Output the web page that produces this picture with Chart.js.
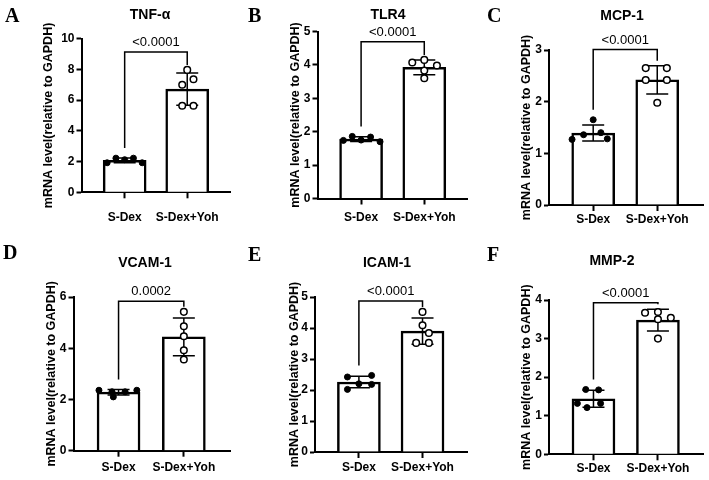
<!DOCTYPE html>
<html>
<head>
<meta charset="utf-8">
<script src="https://cdn.jsdelivr.net/npm/chart.js@4.4.1/dist/chart.umd.min.js"></script>
<style>
  body { margin: 0; background: #fff; }
  #wrap { position: relative; width: 709px; height: 480px; overflow: hidden; background: #fff; }
  .panel { position: absolute; }
  .letter { position: absolute; font: bold 20px "Liberation Serif", "Times New Roman", serif; line-height: 20px; color: #000; }
</style>
</head>
<body>
<div id="wrap"></div>
<script>
// data
const groups = ['S-Dex', 'S-Dex+Yoh'];
const genes = ['TNF-α', 'TLR4', 'MCP-1', 'VCAM-1', 'ICAM-1', 'MMP-2'];
const letters = ['A', 'B', 'C', 'D', 'E', 'F'];
const pValues = ['<0.0001', '<0.0001', '<0.0001', '0.0002', '<0.0001', '<0.0001'];
const yMax = [10, 5, 3, 6, 5, 4];
const yStep = [2, 1, 1, 2, 1, 1];
const sdexValues = [
  [1.92, 2.22, 2.12, 2.22, 1.92],
  [1.74, 1.86, 1.75, 1.84, 1.70],
  [1.27, 1.36, 1.65, 1.4, 1.28],
  [2.36, 2.30, 2.10, 2.30, 2.36],
  [2.42, 2.47, 2.02, 2.2, 2.18],
  [1.68, 1.67, 1.32, 1.21, 1.32]
];
const yohValues = [
  [7.96, 7.35, 6.99, 5.63, 5.63],
  [4.07, 4.15, 3.98, 3.83, 3.6],
  [2.65, 2.65, 2.42, 2.42, 1.98],
  [5.42, 4.86, 4.47, 3.92, 3.56],
  [4.52, 4.09, 3.84, 3.52, 3.52],
  [3.67, 3.69, 3.54, 3.5, 3.0]
];
// sideways spread of the dots, in category units
const sdexJitter = [
  [-0.28, -0.14, 0, 0.14, 0.28],
  [-0.28, -0.14, 0, 0.15, 0.3],
  [-0.33, -0.15, 0, 0.12, 0.22],
  [-0.3, -0.1, -0.08, 0.1, 0.28],
  [-0.18, 0.2, -0.18, 0, 0.2],
  [-0.12, 0.08, -0.25, -0.1, 0.11]
];
const yohJitter = [
  [0, 0.1, -0.08, -0.08, 0.1],
  [-0.19, 0, 0.2, 0, 0],
  [-0.18, 0.15, -0.18, 0.15, 0],
  [0, 0, 0, 0, 0],
  [0, 0, 0.1, -0.1, 0.1],
  [-0.2, 0, 0.2, 0, 0]
];
const bracketLevel = [9.13, 4.69, 3.01, 5.83, 4.87, 3.93];

// layout (page pixels)
const boxes = [[0, 0, 236, 240], [236, 0, 237, 240], [472, 0, 237, 240],
               [0, 240, 236, 240], [236, 240, 237, 240], [472, 240, 237, 240]];
const plotRects = [[81.5, 38.5, 237.5, 192.3], [317.5, 31.5, 473, 198.5], [549, 50, 707, 205],
                   [73.5, 297, 231, 450.7], [315, 297, 472, 452], [549, 300, 706, 454.3]];
const yTitleX = [49, 296, 527, 52, 295, 527];
const xLabelY = [217, 217, 217, 467, 467, 467];
const titlePos = [[150, 15], [388, 15], [622, 16], [145, 263], [387, 263], [612, 261]];
const letterPos = [[5, 5], [248, 5], [487, 5], [3, 242], [248, 244], [487, 244]];

const FONT = '"Liberation Sans", Arial, sans-serif';
const wrap = document.getElementById('wrap');

const mean = a => a.reduce((s, v) => s + v, 0) / a.length;
const stdev = a => {
  const m = mean(a);
  return Math.sqrt(a.reduce((s, v) => s + (v - m) * (v - m), 0) / (a.length - 1));
};

function makePanel(i) {
  const [bl, bt, bw, bh] = boxes[i];
  const [ax, ty, rx, zy] = plotRects[i];
  const div = document.createElement('div');
  div.className = 'panel';
  div.style.left = bl + 'px';
  div.style.top = bt + 'px';
  const canvas = document.createElement('canvas');
  canvas.width = bw;
  canvas.height = bh;
  div.appendChild(canvas);
  wrap.appendChild(div);

  const lt = document.createElement('div');
  lt.className = 'letter';
  lt.style.left = letterPos[i][0] + 'px';
  lt.style.top = letterPos[i][1] + 'px';
  lt.textContent = letters[i];
  wrap.appendChild(lt);

  const sd = sdexValues[i], yo = yohValues[i];

  const extras = {
    id: 'extras' + i,
    afterDatasetDraw(chart, args) {
      if (args.index !== 0) return;
      const ctx = chart.ctx, xs = chart.scales.x, ys = chart.scales.y;
      [sd, yo].forEach((vals, g) => {
        const m = mean(vals), s = stdev(vals);
        const px = xs.getPixelForValue(g);
        const top = ys.getPixelForValue(m + s), bot = ys.getPixelForValue(m - s);
        ctx.save();
        ctx.strokeStyle = '#000';
        ctx.lineWidth = 1.5;
        ctx.beginPath();
        ctx.moveTo(px, top); ctx.lineTo(px, bot);
        ctx.moveTo(px - 11, top); ctx.lineTo(px + 11, top);
        ctx.moveTo(px - 11, bot); ctx.lineTo(px + 11, bot);
        ctx.stroke();
        ctx.restore();
      });
    },
    afterDraw(chart) {
      const ctx = chart.ctx, xs = chart.scales.x, ys = chart.scales.y;
      const x0 = xs.getPixelForValue(0), x1 = xs.getPixelForValue(1);
      const l = ys.getPixelForValue(Math.max(...sd, mean(sd) + stdev(sd))) - 10;
      const r = ys.getPixelForValue(Math.max(...yo, mean(yo) + stdev(yo))) - 5;
      const by = ys.getPixelForValue(bracketLevel[i]);
      ctx.save();
      ctx.strokeStyle = '#000';
      ctx.lineWidth = 1.5;
      ctx.beginPath();
      ctx.moveTo(x0, l); ctx.lineTo(x0, by); ctx.lineTo(x1, by); ctx.lineTo(x1, r);
      ctx.stroke();
      ctx.fillStyle = '#000';
      ctx.textAlign = 'center';
      ctx.textBaseline = 'bottom';
      ctx.font = '13px ' + FONT;
      ctx.fillText(pValues[i], (x0 + x1) / 2, by - 3);
      ctx.font = 'bold 14px ' + FONT;
      ctx.textBaseline = 'middle';
      ctx.fillText(genes[i], titlePos[i][0] - bl, titlePos[i][1] - bt);
      ctx.restore();
    }
  };

  const titleSize = 12.5;

  new Chart(canvas, {
    type: 'bar',
    data: {
      datasets: [
        {
          type: 'bar',
          data: [{ x: 0, y: mean(sd) }, { x: 1, y: mean(yo) }],
          backgroundColor: '#fff',
          borderColor: '#000',
          borderWidth: 2.5,
          barThickness: 43,
          order: 2
        },
        {
          type: 'scatter',
          data: sd.map((v, k) => ({ x: sdexJitter[i][k], y: v })),
          pointRadius: 3,
          pointBackgroundColor: '#000',
          pointBorderColor: '#000',
          pointBorderWidth: 1,
          order: 1
        },
        {
          type: 'scatter',
          data: yo.map((v, k) => ({ x: 1 + yohJitter[i][k], y: v })),
          pointRadius: 3.3,
          pointBackgroundColor: '#fff',
          pointBorderColor: '#000',
          pointBorderWidth: 1.5,
          order: 1
        }
      ]
    },
    options: {
      responsive: false,
      animation: false,
      layout: { padding: { left: 0, top: ty - bt, right: bl + bw - rx, bottom: 0 } },
      plugins: { legend: { display: false }, tooltip: { enabled: false }, title: { display: false } },
      scales: {
        x: {
          type: 'linear',
          min: -0.69,
          max: -0.69 + (rx - ax) / 65.5,
          offset: false,
          afterBuildTicks: s => { s.ticks = [{ value: 0 }, { value: 1 }]; },
          afterFit: s => { s.height = bt + bh - zy; },
          ticks: {
            callback: v => groups[v],
            font: { family: FONT, size: 12, weight: 'bold' },
            color: '#000',
            padding: Math.max(1, xLabelY[i] - 7 - zy - 6),
            maxRotation: 0,
            autoSkip: false
          },
          grid: { offset: false, drawOnChartArea: false, tickLength: 6, tickWidth: 2, tickColor: '#000' },
          border: { color: '#000', width: 2 }
        },
        y: {
          min: 0,
          max: yMax[i],
          afterFit: s => { s.width = ax - bl; },
          ticks: {
            stepSize: yStep[i],
            font: { family: FONT, size: 12, weight: 'bold' },
            color: '#000',
            padding: 2
          },
          grid: { drawOnChartArea: false, tickLength: 5, tickWidth: 2, tickColor: '#000' },
          border: { color: '#000', width: 2 },
          title: {
            display: true,
            text: 'mRNA level(relative to GAPDH)',
            font: { family: FONT, size: titleSize, weight: 'bold' },
            color: '#000',
            padding: { top: yTitleX[i] - bl - titleSize * 0.6, bottom: 0 }
          }
        }
      }
    },
    plugins: [extras]
  });
}

for (let i = 0; i < 6; i++) makePanel(i);
</script>
</body>
</html>
